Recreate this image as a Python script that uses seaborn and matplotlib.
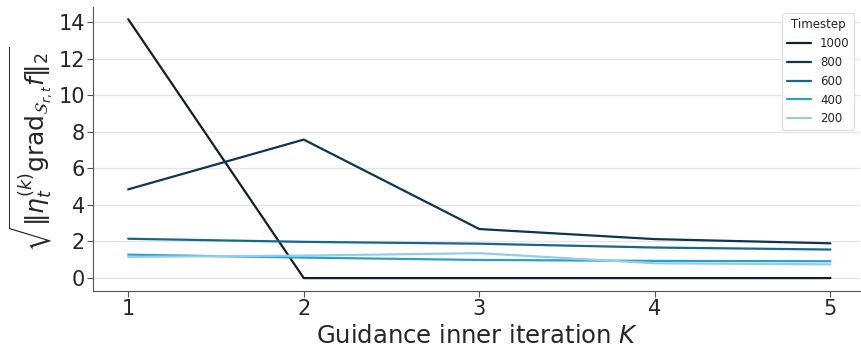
import pandas as pd
import matplotlib.pyplot as plt
import seaborn as sns

# data
iterations = [1, 2, 3, 4, 5]
timesteps = ['1000', '800', '600', '400', '200']
norm_1000 = [14.15, 0.0, 0.0, 0.0, 0.0]
norm_800 = [4.85, 7.57, 2.68, 2.13, 1.90]
norm_600 = [2.15, 1.98, 1.88, 1.67, 1.56]
norm_400 = [1.28, 1.12, 0.99, 0.94, 0.92]
norm_200 = [1.16, 1.23, 1.36, 0.81, 0.75]
colors = ['#0f1f2b', '#0e3652', '#16688a', '#26a2c9', '#95cdeb']

series = [norm_1000, norm_800, norm_600, norm_400, norm_200]
df = pd.concat(
    [pd.DataFrame({'K': iterations, 'value': vals, 'Timestep': t})
     for t, vals in zip(timesteps, series)],
    ignore_index=True)

sns.set_style('white')
fig, ax = plt.subplots(figsize=(8.62, 3.49), dpi=100)
sns.lineplot(data=df, x='K', y='value', hue='Timestep', hue_order=timesteps,
             palette=dict(zip(timesteps, colors)), linewidth=1.6, ax=ax)

ax.yaxis.grid(True, color='#e6e6e6', linewidth=1)
ax.set_axisbelow(True)
ax.set_xticks(iterations)
ax.set_yticks(range(0, 15, 2))
ax.set_ylim(-0.71, 14.8)
ax.set_xlim(0.8, 5.17)
ax.tick_params(axis='both', labelsize=15, length=4, pad=2, left=True, bottom=True, color='#555555')
ax.set_xlabel('Guidance inner iteration $K$', fontsize=17.5, labelpad=3)
ax.set_ylabel(r'$\sqrt{\|\eta_t^{(k)}\mathrm{grad}_{\mathcal{S}_{r,t}}f\|_2}$', fontsize=18, labelpad=2)
for s in ['left', 'bottom']:
    ax.spines[s].set_color('#555555')
sns.despine(ax=ax)
leg = ax.legend(title='Timestep', fontsize=8.5, title_fontsize=8.5, loc='upper right',
                bbox_to_anchor=(1.0, 1.0), frameon=True)
leg.get_frame().set_edgecolor('#dddddd')

plt.subplots_adjust(left=0.108, right=0.998, top=0.979, bottom=0.166)
plt.savefig('out.png', dpi=100)
